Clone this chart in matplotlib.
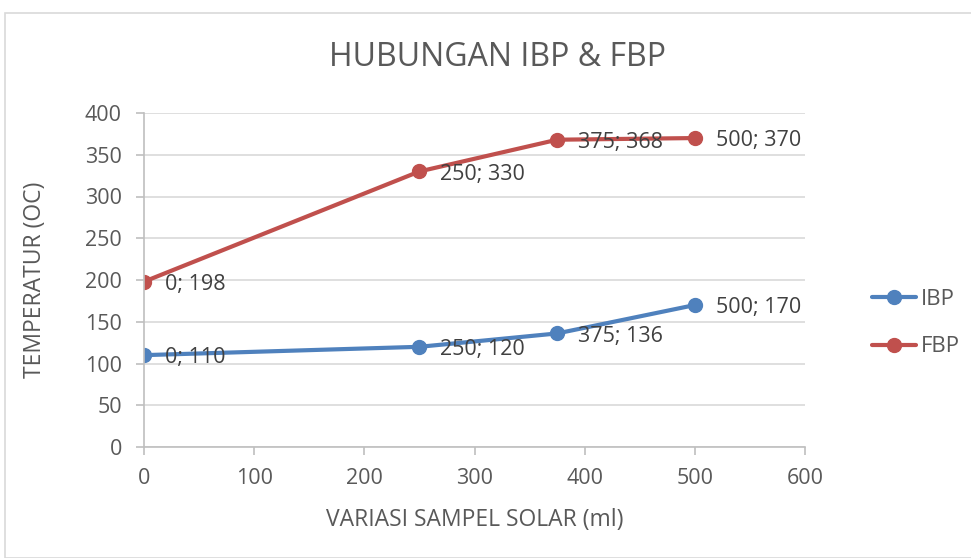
import matplotlib
matplotlib.use("Agg")
import matplotlib.pyplot as plt
from matplotlib.patches import Rectangle

x_vals = [0, 250, 375, 500]
ibp = [110, 120, 136, 170]
fbp = [198, 330, 368, 370]
series_names = ["IBP", "FBP"]
title = "HUBUNGAN IBP & FBP"
xlabel = "VARIASI SAMPEL SOLAR (ml)"
ylabel = "TEMPERATUR (OC)"

plt.rcParams['font.family'] = ['Open Sans', 'DejaVu Sans']
txt = '#595959'
fig = plt.figure(figsize=(9.71, 5.58), dpi=100)
fig.patches.append(Rectangle((5/971, 0), 1.1, 1 - 13/558, transform=fig.transFigure,
                             fill=False, edgecolor='#D9D9D9', linewidth=1.2))
ax = fig.add_axes([144/971, 1 - 447/558, (805 - 144)/971, (447 - 113)/558])

blue = '#4F81BD'
red = '#C0504D'
ax.plot(x_vals, ibp, color=blue, lw=3, marker='o', ms=10, label=series_names[0], solid_capstyle='round')
ax.plot(x_vals, fbp, color=red, lw=3, marker='o', ms=10, label=series_names[1], solid_capstyle='round')

for xs, ys in ((x_vals, ibp), (x_vals, fbp)):
    for xv, yv in zip(xs, ys):
        ax.annotate(f"{xv}; {yv}", (xv, yv), xytext=(15, -2), textcoords='offset points',
                    ha='left', va='center', fontsize=15.5, color='#404040')

ax.set_xlim(0, 600)
ax.set_ylim(0, 400)
ax.set_xticks(range(0, 601, 100))
ax.set_yticks(range(0, 401, 50))
ax.grid(axis='y', color='#D9D9D9', lw=1.2)
ax.set_axisbelow(True)
for s in ['top', 'right']:
    ax.spines[s].set_visible(False)
for s in ['left', 'bottom']:
    ax.spines[s].set_color('#BFBFBF')
    ax.spines[s].set_linewidth(1.2)
ax.tick_params(axis='x', colors='#BFBFBF', length=6, width=1.2, labelcolor=txt, labelsize=15.5, pad=9)
ax.tick_params(axis='y', colors='#BFBFBF', length=6, width=1.2, labelcolor=txt, labelsize=15.5, pad=10)

fig.text(497/971, 1 - 58/558, title, ha='center', va='center', fontsize=23, color=txt)
fig.text(475/971, 1 - 520/558, xlabel, ha='center', va='center', fontsize=16.5, color=txt)
fig.text(35/971, 1 - 280/558, ylabel, ha='center', va='center', fontsize=16.5, color=txt, rotation=90)

leg = fig.legend(loc='center left', bbox_to_anchor=(852/971, 1 - 323/558), frameon=False,
                 fontsize=16, labelcolor=txt, handlelength=2.0, labelspacing=1.2, handletextpad=0.2)

fig.savefig("out.png", dpi=100)
